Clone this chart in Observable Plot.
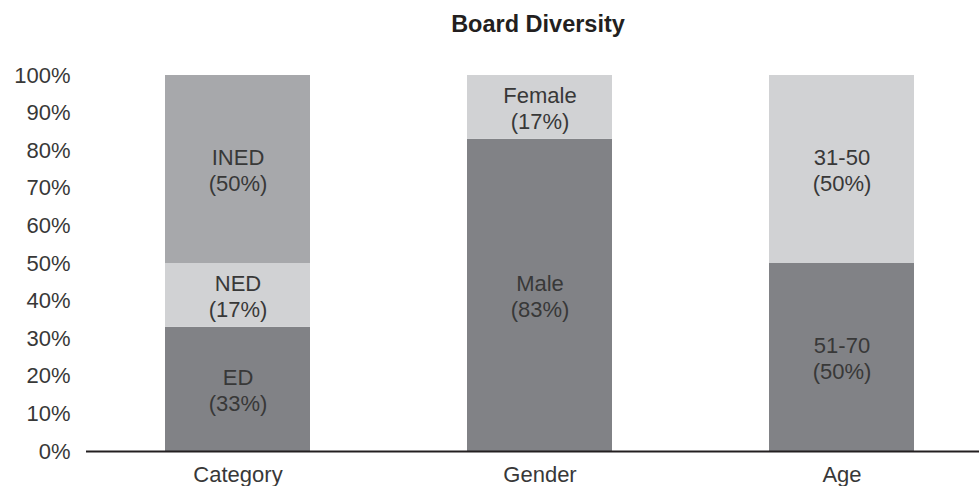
<!DOCTYPE html>
<html>
<head>
<meta charset="utf-8">
<script src="https://cdn.jsdelivr.net/npm/d3@7"></script>
<script src="https://cdn.jsdelivr.net/npm/@observablehq/plot@0.6"></script>
<style>
  body { margin: 0; background: #fff; }
  #wrap { position: relative; width: 979px; height: 486px; overflow: hidden; font-family: "Liberation Sans", Arial, sans-serif; }
  #title { position: absolute; left: 0; top: 11px; width: 1076px; text-align: center; font-size: 23.5px; font-weight: bold; color: #231f20; line-height: 26px; }
  #chart { position: absolute; left: 0; top: 50px; }
</style>
</head>
<body>
<div id="wrap">
  <div id="title">Board Diversity</div>
  <div id="chart"></div>
</div>
<script>
const groups = ["Category", "Gender", "Age"];
const segments = [["ED", "NED", "INED"], ["Male", "Female"], ["51-70", "31-50"]];
const values = [[33, 17, 50], [83, 17], [50, 50]];
const yTicks = [0, 10, 20, 30, 40, 50, 60, 70, 80, 90, 100];

const segmentColors = {
  "ED": "#818286", "NED": "#d1d2d4", "INED": "#a7a8ab",
  "Male": "#818286", "Female": "#d1d2d4",
  "51-70": "#818286", "31-50": "#d1d2d4"
};

const rows = [];
groups.forEach((g, i) => {
  segments[i].forEach((s, j) => rows.push({group: g, segment: s, value: values[i][j]}));
});

const chart = Plot.plot({
  width: 979,
  height: 436,
  marginTop: 25,
  marginBottom: 35,
  marginLeft: 86,
  marginRight: 0,
  style: {fontFamily: "'Liberation Sans', Arial, sans-serif", color: "#383838", background: "#fff"},
  x: {domain: groups, range: [86, 992], paddingInner: 0.52, paddingOuter: 0.26},
  y: {domain: [0, 100]},
  color: {domain: Object.keys(segmentColors), range: Object.values(segmentColors)},
  marks: [
    Plot.barY(rows, Plot.stackY({x: "group", y: "value", fill: "segment", order: null})),
    Plot.text(rows, Plot.stackY({
      x: "group", y: "value", order: null,
      text: d => `${d.segment}\n(${d.value}%)`,
      fill: "#383838", fontSize: 22, lineHeight: 1.2
    })),
    Plot.ruleY([0], {stroke: "#231f20", strokeWidth: 2}),
    Plot.axisY({ticks: yTicks, tickFormat: d => d + "%", tickSize: 0, tickPadding: 16, fontSize: 22, label: null}),
    Plot.axisX({tickSize: 0, tickPadding: 15, fontSize: 22, label: null})
  ]
});
document.getElementById("chart").appendChild(chart);
</script>
</body>
</html>
